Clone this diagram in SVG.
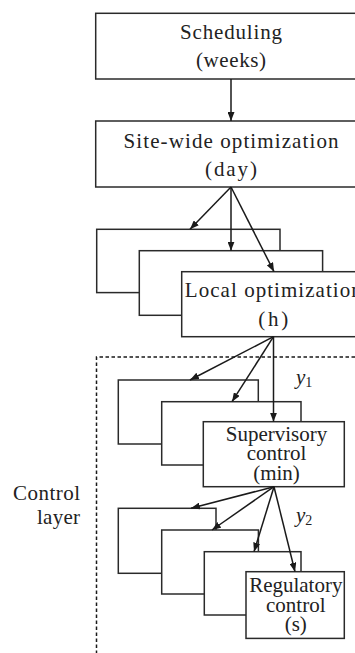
<svg xmlns="http://www.w3.org/2000/svg" width="355" height="653" viewBox="0 0 355 653">
<style>
.box{fill:#fff;stroke:#2a2a2a;stroke-width:1.5}
.cm{font-family:"Liberation Serif","Times New Roman",serif;font-size:21px;fill:#222;text-anchor:middle}
.tm{font-family:"Liberation Serif","Times New Roman",serif;font-size:21px;fill:#222;text-anchor:middle}
.lab{font-family:"Liberation Serif","Times New Roman",serif;font-size:21px;fill:#222}
.con line{stroke:#1a1a1a;stroke-width:1.5;marker-end:url(#ah)}
.dash{fill:none;stroke:#1a1a1a;stroke-width:1.5;stroke-dasharray:3.5,2.5}
</style>
<defs>
<marker id="ah" markerUnits="userSpaceOnUse" markerWidth="9" markerHeight="7" refX="9" refY="3.5" orient="auto">
<path d="M0,0 L9,3.5 L0,7 z" fill="#1a1a1a"/>
</marker>
</defs>
<rect width="355" height="653" fill="#fff"/>

<g id="control-layer">
<path class="dash" d="M96.5,660 V357 H360"/>
<text class="lab" x="80" y="500" text-anchor="end" textLength="67" lengthAdjust="spacing">Control</text>
<text class="lab" x="80" y="523.5" text-anchor="end" textLength="43" lengthAdjust="spacing">layer</text>
</g>

<g id="scheduling">
<rect class="box" x="95.7" y="13.3" width="271" height="65.7"/>
<text class="cm" x="231" y="38.5" textLength="102" lengthAdjust="spacing">Scheduling</text>
<text class="cm" x="231" y="66.5" textLength="70" lengthAdjust="spacing">(weeks)</text>
</g>

<g id="site-wide">
<rect class="box" x="95.7" y="121" width="271" height="66"/>
<text class="cm" x="231" y="147.5" textLength="215" lengthAdjust="spacing">Site-wide optimization</text>
<text class="cm" x="231" y="175.5" textLength="52" lengthAdjust="spacing">(day)</text>
</g>

<g id="local-1"><rect class="box" x="96.7" y="229.3" width="183.3" height="63.3"/></g>
<g id="local-2"><rect class="box" x="139.3" y="250.7" width="183.3" height="64.6"/></g>
<g id="local-3">
<rect class="box" x="181.7" y="271.7" width="183.3" height="65"/>
<text class="cm" x="273.3" y="297.3" textLength="177" lengthAdjust="spacing">Local optimization</text>
<text class="cm" x="273.3" y="325.5" textLength="30" lengthAdjust="spacing">(h)</text>
</g>

<g id="sup-1"><rect class="box" x="118.3" y="380" width="140" height="64"/></g>
<g id="sup-2"><rect class="box" x="161.7" y="401.7" width="139.3" height="63.3"/></g>
<g id="sup-3">
<rect class="box" x="203.3" y="421.7" width="141" height="65"/>
<text class="tm" x="276.5" y="440.5">Supervisory</text>
<text class="tm" x="276.5" y="459.5">control</text>
<text class="tm" x="276.5" y="480">(min)</text>
</g>

<g id="reg-1"><rect class="box" x="118.3" y="508.3" width="97.7" height="65"/></g>
<g id="reg-2"><rect class="box" x="161.7" y="530" width="96.7" height="64"/></g>
<g id="reg-3"><rect class="box" x="204.3" y="551.7" width="96.7" height="63.3"/></g>
<g id="reg-4">
<rect class="box" x="246" y="571.7" width="98.3" height="66.7"/>
<text class="tm" x="295.8" y="591.5">Regulatory</text>
<text class="tm" x="295.8" y="611.5">control</text>
<text class="tm" x="295.8" y="631">(s)</text>
</g>

<g id="signal-labels">
<text class="lab" x="296" y="383.5" font-style="italic">y<tspan font-style="normal" font-size="14" dy="3">1</tspan></text>
<text class="lab" x="296" y="521.5" font-style="italic">y<tspan font-style="normal" font-size="14" dy="3">2</tspan></text>
</g>

<g id="connectors" class="con">
<line x1="231" y1="79" x2="231" y2="121"/>
<line x1="231" y1="187" x2="190" y2="229.3"/>
<line x1="231" y1="187" x2="231" y2="250.7"/>
<line x1="231" y1="187" x2="274" y2="271.7"/>
<line x1="273.5" y1="336.7" x2="190" y2="380"/>
<line x1="273.5" y1="336.7" x2="232" y2="401.7"/>
<line x1="273.5" y1="336.7" x2="273.5" y2="421.7"/>
<line x1="274" y1="486.7" x2="191" y2="508.3"/>
<line x1="274" y1="486.7" x2="212" y2="530"/>
<line x1="274" y1="486.7" x2="254" y2="551.7"/>
<line x1="274" y1="486.7" x2="295" y2="571.7"/>
</g>
</svg>
